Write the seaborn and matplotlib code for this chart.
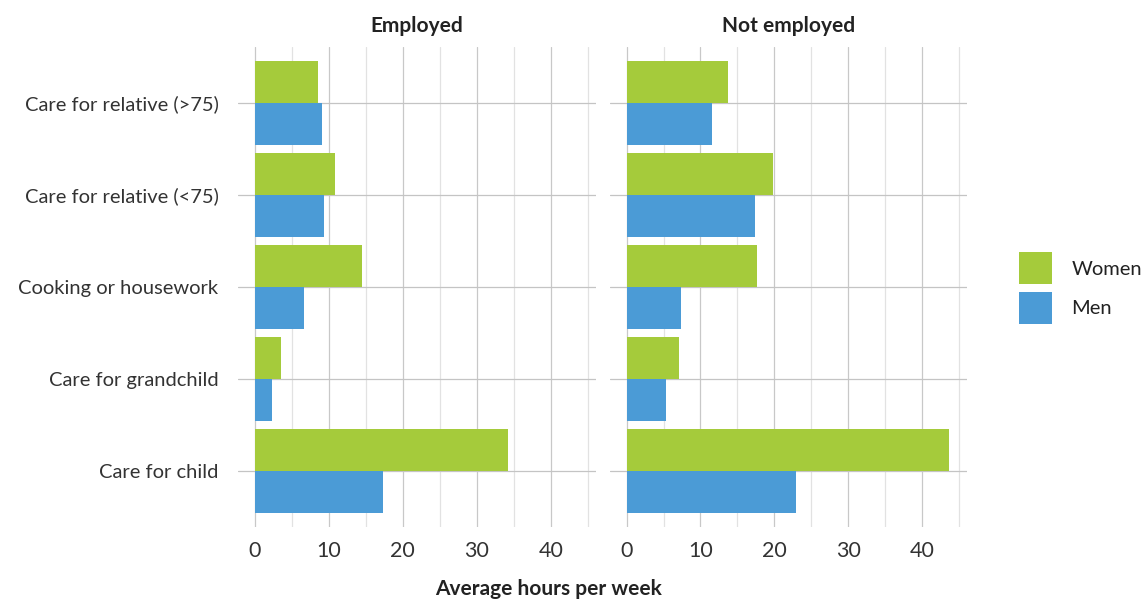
import matplotlib
matplotlib.use("Agg")
import matplotlib.pyplot as plt
import seaborn as sns
import pandas as pd
from matplotlib.patches import Patch

categories = ["Care for relative (>75)", "Care for relative (<75)", "Cooking or housework",
              "Care for grandchild", "Care for child"]
panels = ["Employed", "Not employed"]
genders = ["Women", "Men"]
employed_women = [8.5, 10.8, 14.5, 3.5, 34.2]
employed_men = [9.1, 9.3, 6.6, 2.4, 17.4]
notemp_women = [13.7, 19.8, 17.7, 7.1, 43.7]
notemp_men = [11.5, 17.4, 7.4, 5.4, 23.0]
colors = {"Women": "#a5cb3b", "Men": "#4b9bd6"}

rows = []
for panel, w, m in [("Employed", employed_women, employed_men),
                    ("Not employed", notemp_women, notemp_men)]:
    for c, wv, mv in zip(categories, w, m):
        rows.append(dict(panel=panel, category=c, gender="Women", hours=wv))
        rows.append(dict(panel=panel, category=c, gender="Men", hours=mv))
df = pd.DataFrame(rows)

sns.set_theme(style="white")
plt.rcParams['font.family'] = ['Lato', 'DejaVu Sans']

fig = plt.figure(figsize=(11.48, 6.0), dpi=100)
W, H = 1148, 600
ax1 = fig.add_axes([238 / W, 1 - 527 / H, (596 - 238) / W, (527 - 47) / H])
ax2 = fig.add_axes([610 / W, 1 - 527 / H, (967 - 610) / W, (527 - 47) / H])

for ax, panel in zip([ax1, ax2], panels):
    sub = df[df.panel == panel]
    sns.barplot(data=sub, y="category", x="hours", hue="gender", order=categories,
                hue_order=genders, palette=colors, orient="h", width=0.915,
                saturation=1, ax=ax, legend=False, zorder=3, linewidth=0)
    ax.set_xlim(-2.25, 46.1)
    ax.set_ylim(len(categories) - 1 + 0.61, -0.61)
    ax.set_xticks([0, 10, 20, 30, 40])
    ax.set_xticks([5, 15, 25, 35, 45], minor=True)
    ax.grid(True, which="major", axis="x", color="#c8c8c8", lw=0.9, zorder=0)
    ax.grid(True, which="minor", axis="x", color="#e2e2e2", lw=0.9, zorder=0)
    ax.grid(True, which="major", axis="y", color="#c4c4c4", lw=0.9, zorder=0)
    for s in ax.spines.values():
        s.set_visible(False)
    ax.set_xlabel("")
    ax.set_ylabel("")
    ax.tick_params(axis="x", labelsize=15.5, colors="#333333", length=0, pad=10)
    ax.tick_params(axis="y", labelsize=14.5, colors="#333333", length=0, pad=14)
    ax.set_title(panel, fontsize=15, fontweight="bold", color="#222222", pad=11)

ax2.set_yticklabels([])

fig.text(549 / W, 1 - 589 / H, "Average hours per week", ha="center", va="center",
         fontsize=15, fontweight="bold", color="#222222")

handles = [Patch(facecolor=colors[g], edgecolor="none", label=g) for g in genders]
fig.legend(handles=handles, loc="center left", bbox_to_anchor=(1001 / W, 1 - 288 / H),
           frameon=False, fontsize=14.5, handlelength=1.65, handleheight=2.1,
           labelspacing=0.35, handletextpad=0.95, labelcolor="#222222")

fig.savefig("out.png", dpi=100)
